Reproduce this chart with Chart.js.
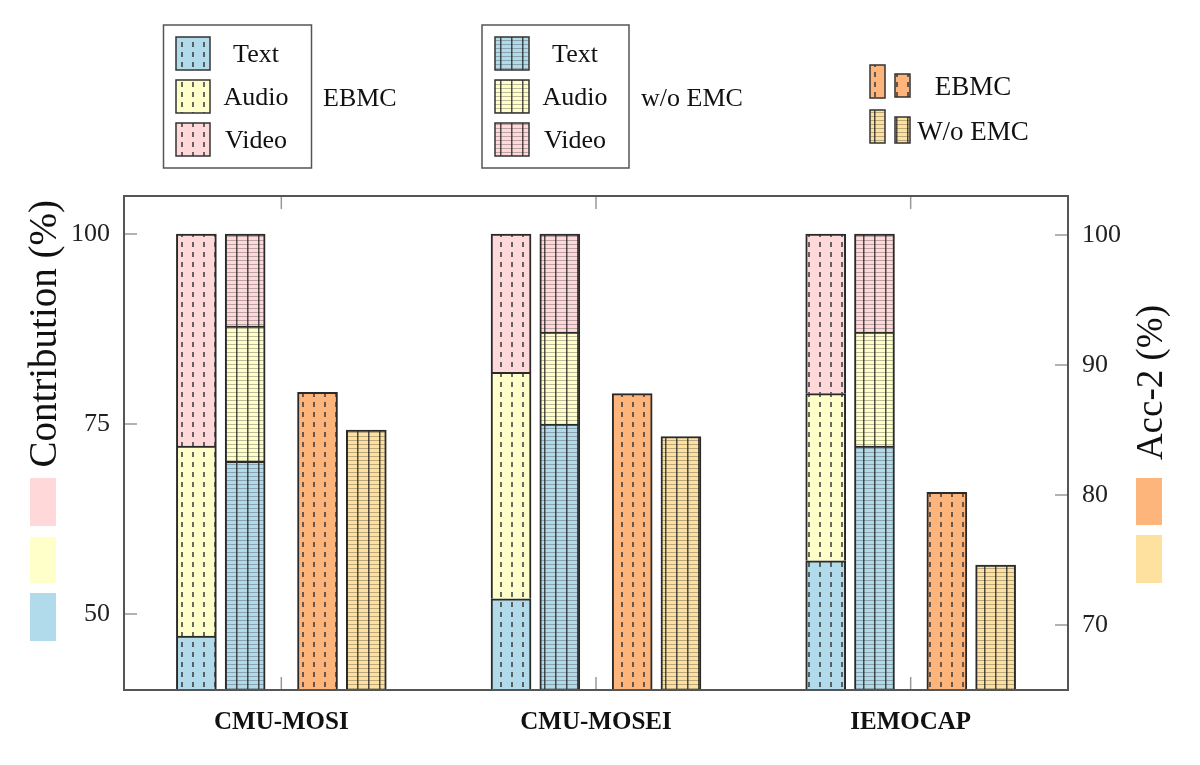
<html>
<head>
<script src="https://cdn.jsdelivr.net/npm/chart.js@4.4.1/dist/chart.umd.min.js"></script>
<style>
body { margin: 0; background: #ffffff; }
#wrap { width: 1200px; height: 765px; }
</style>
</head>
<body>
<div id="wrap"><canvas id="chart"></canvas></div>
<script>
// categories and values (contribution in %, accuracy in %)
var datasetNames = ["CMU-MOSI", "CMU-MOSEI", "IEMOCAP"];
var ebmcText  = [47.1, 52.0, 57.0];
var ebmcAudio = [25.0, 29.8, 22.0];
var ebmcVideo = [27.9, 18.2, 21.0];
var woText  = [70.1, 75.0, 72.1];
var woAudio = [17.8, 12.1, 15.0];
var woVideo = [12.1, 12.9, 12.9];
var accEbmc = [87.9, 87.8, 80.2];
var accWo   = [85.0, 84.5, 74.6];
var leftTicks  = [50, 75, 100];
var rightTicks = [70, 80, 90, 100];

var blue = "#b1dbea", yellow = "#ffffc9", pink = "#ffd8d9";
var orange = "#fdb57b", gold = "#ffe19f";
var serif = "'Liberation Serif', 'DejaVu Serif', serif";

function dotPattern(color) {
    var c = document.createElement("canvas");
    c.width = 11; c.height = 10;
    var g = c.getContext("2d");
    g.fillStyle = color; g.fillRect(0, 0, 11, 10);
    g.fillStyle = "rgba(55,55,55,0.75)";
    g.fillRect(5, 2, 2, 5);
    return g.createPattern(c, "repeat");
}
function gridPattern(color) {
    var c = document.createElement("canvas");
    c.width = 11; c.height = 4;
    var g = c.getContext("2d");
    g.fillStyle = color; g.fillRect(0, 0, 11, 4);
    g.fillStyle = "rgba(60,60,60,0.35)";
    g.fillRect(0, 0, 11, 1);
    g.fillStyle = "rgba(35,35,35,0.8)";
    g.fillRect(5, 0, 1.5, 4);
    return g.createPattern(c, "repeat");
}

var pat = {
    eText: dotPattern(blue), eAudio: dotPattern(yellow), eVideo: dotPattern(pink),
    wText: gridPattern(blue), wAudio: gridPattern(yellow), wVideo: gridPattern(pink),
    eAcc: dotPattern(orange), wAcc: gridPattern(gold)
};

// bar shift inside a group, in category units
var shift = { e: -0.27, w: -0.115, ea: 0.115, wa: 0.27 };

function points(arr, off) {
    return arr.map(function (v, i) { return { x: i + off, y: v }; });
}
function ds(label, arr, off, fill, stack, axis) {
    return {
        label: label, data: points(arr, off), backgroundColor: fill,
        borderColor: "#2a2a2a", borderWidth: 2, stack: stack, yAxisID: axis,
        grouped: false, barThickness: 40, clip: { left: 5, right: 5, top: 5, bottom: 0 }
    };
}

var datasets = [
    ds("Text", ebmcText, shift.e, pat.eText, "ebmc", "y"),
    ds("Audio", ebmcAudio, shift.e, pat.eAudio, "ebmc", "y"),
    ds("Video", ebmcVideo, shift.e, pat.eVideo, "ebmc", "y"),
    ds("Text", woText, shift.w, pat.wText, "wo", "y"),
    ds("Audio", woAudio, shift.w, pat.wAudio, "wo", "y"),
    ds("Video", woVideo, shift.w, pat.wVideo, "wo", "y"),
    ds("EBMC", accEbmc, shift.ea, pat.eAcc, "acc1", "y2"),
    ds("W/o EMC", accWo, shift.wa, pat.wAcc, "acc2", "y2")
];

function swatch(ctx, x, y, w, h, fill) {
    ctx.fillStyle = fill;
    ctx.fillRect(x, y, w, h);
    ctx.strokeStyle = "#333";
    ctx.lineWidth = 1.5;
    ctx.strokeRect(x, y, w, h);
}

var decor = {
    id: "decor",
    afterDraw: function (chart) {
        var ctx = chart.ctx, a = chart.chartArea;
        var sx = chart.scales.x, sy = chart.scales.y, sy2 = chart.scales.y2;
        ctx.save();
        // inner ticks
        ctx.strokeStyle = "#999";
        ctx.lineWidth = 1.5;
        ctx.beginPath();
        leftTicks.forEach(function (t) {
            var p = sy.getPixelForValue(t);
            ctx.moveTo(a.left, p); ctx.lineTo(a.left + 13, p);
        });
        rightTicks.forEach(function (t) {
            var p = sy2.getPixelForValue(t);
            ctx.moveTo(a.right, p); ctx.lineTo(a.right - 13, p);
        });
        datasetNames.forEach(function (n, i) {
            var p = sx.getPixelForValue(i);
            ctx.moveTo(p, a.top); ctx.lineTo(p, a.top + 13);
            ctx.moveTo(p, a.bottom); ctx.lineTo(p, a.bottom - 13);
        });
        ctx.stroke();
        // frame
        ctx.strokeStyle = "#555";
        ctx.lineWidth = 2;
        ctx.strokeRect(a.left, a.top, a.right - a.left, a.bottom - a.top);

        // axis titles
        ctx.fillStyle = "#111";
        ctx.textBaseline = "middle";
        ctx.save();
        ctx.translate(46, 200);
        ctx.rotate(-Math.PI / 2);
        ctx.textAlign = "right";
        ctx.font = "39px " + serif;
        ctx.fillText("Contribution (%)", 0, 0);
        ctx.restore();
        ctx.save();
        ctx.translate(1152, 305);
        ctx.rotate(-Math.PI / 2);
        ctx.textAlign = "right";
        ctx.font = "37px " + serif;
        ctx.fillText("Acc-2 (%)", 0, 0);
        ctx.restore();

        // colour keys beside the axis titles
        ctx.fillStyle = pink; ctx.fillRect(30, 478, 26, 48);
        ctx.fillStyle = yellow; ctx.fillRect(30, 537, 26, 46);
        ctx.fillStyle = blue; ctx.fillRect(30, 593, 26, 48);
        ctx.fillStyle = orange; ctx.fillRect(1136, 478, 26, 47);
        ctx.fillStyle = gold; ctx.fillRect(1136, 535, 26, 48);

        // legend boxes
        ctx.strokeStyle = "#555";
        ctx.lineWidth = 1.5;
        ctx.strokeRect(163.5, 25, 148, 143);
        ctx.strokeRect(482, 25, 147, 143);
        var rows = [["Text", 37], ["Audio", 80], ["Video", 123]];
        var ef = [pat.eText, pat.eAudio, pat.eVideo];
        var wf = [pat.wText, pat.wAudio, pat.wVideo];
        ctx.font = "26px " + serif;
        rows.forEach(function (r, i) {
            swatch(ctx, 176, r[1], 34, 33, ef[i]);
            swatch(ctx, 495, r[1], 34, 33, wf[i]);
            ctx.fillStyle = "#111";
            ctx.textAlign = "center";
            ctx.fillText(r[0], 256, r[1] + 18);
            ctx.fillText(r[0], 575, r[1] + 18);
        });
        ctx.textAlign = "left";
        ctx.fillText("EBMC", 323, 99);
        ctx.fillText("w/o EMC", 641, 99);

        swatch(ctx, 870, 65, 15, 33, pat.eAcc);
        swatch(ctx, 895, 74, 15, 23, pat.eAcc);
        swatch(ctx, 870, 110, 15, 33, pat.wAcc);
        swatch(ctx, 895, 117, 15, 26, pat.wAcc);
        ctx.fillStyle = "#111";
        ctx.textAlign = "center";
        ctx.font = "27px " + serif;
        ctx.fillText("EBMC", 973, 88);
        ctx.fillText("W/o EMC", 973, 133);
        ctx.restore();
    }
};

Chart.defaults.font.family = serif;
Chart.defaults.color = "#222";

new Chart(document.getElementById("chart"), {
    type: "bar",
    data: { datasets: datasets },
    options: {
        responsive: true,
        maintainAspectRatio: false,
        animation: false,
        layout: { padding: { top: 196, left: 0, right: 0, bottom: 0 } },
        plugins: { legend: { display: false }, tooltip: { enabled: false } },
        scales: {
            x: {
                type: "linear", min: -0.5, max: 2.5, offset: false,
                grid: { display: false }, border: { display: false },
                afterBuildTicks: function (s) { s.ticks = datasetNames.map(function (n, i) { return { value: i }; }); },
                afterFit: function (s) { s.height = 75; },
                ticks: {
                    padding: 10, maxRotation: 0, autoSkip: false,
                    font: { size: 25, weight: "bold" }, color: "#111",
                    callback: function (v) { return datasetNames[Math.round(v)]; }
                }
            },
            y: {
                position: "left", stacked: true, min: 40, max: 105,
                grid: { display: false, drawTicks: false }, border: { display: false },
                afterBuildTicks: function (s) { s.ticks = leftTicks.map(function (t) { return { value: t }; }); },
                afterFit: function (s) { s.width = 124; },
                ticks: { padding: 14, font: { size: 26 }, color: "#222" }
            },
            y2: {
                position: "right", stacked: false, min: 65, max: 103,
                grid: { display: false, drawTicks: false }, border: { display: false },
                afterBuildTicks: function (s) { s.ticks = rightTicks.map(function (t) { return { value: t }; }); },
                afterFit: function (s) { s.width = 132; },
                ticks: { padding: 14, font: { size: 26 }, color: "#222" }
            }
        }
    },
    plugins: [decor]
});
</script>
</body>
</html>
